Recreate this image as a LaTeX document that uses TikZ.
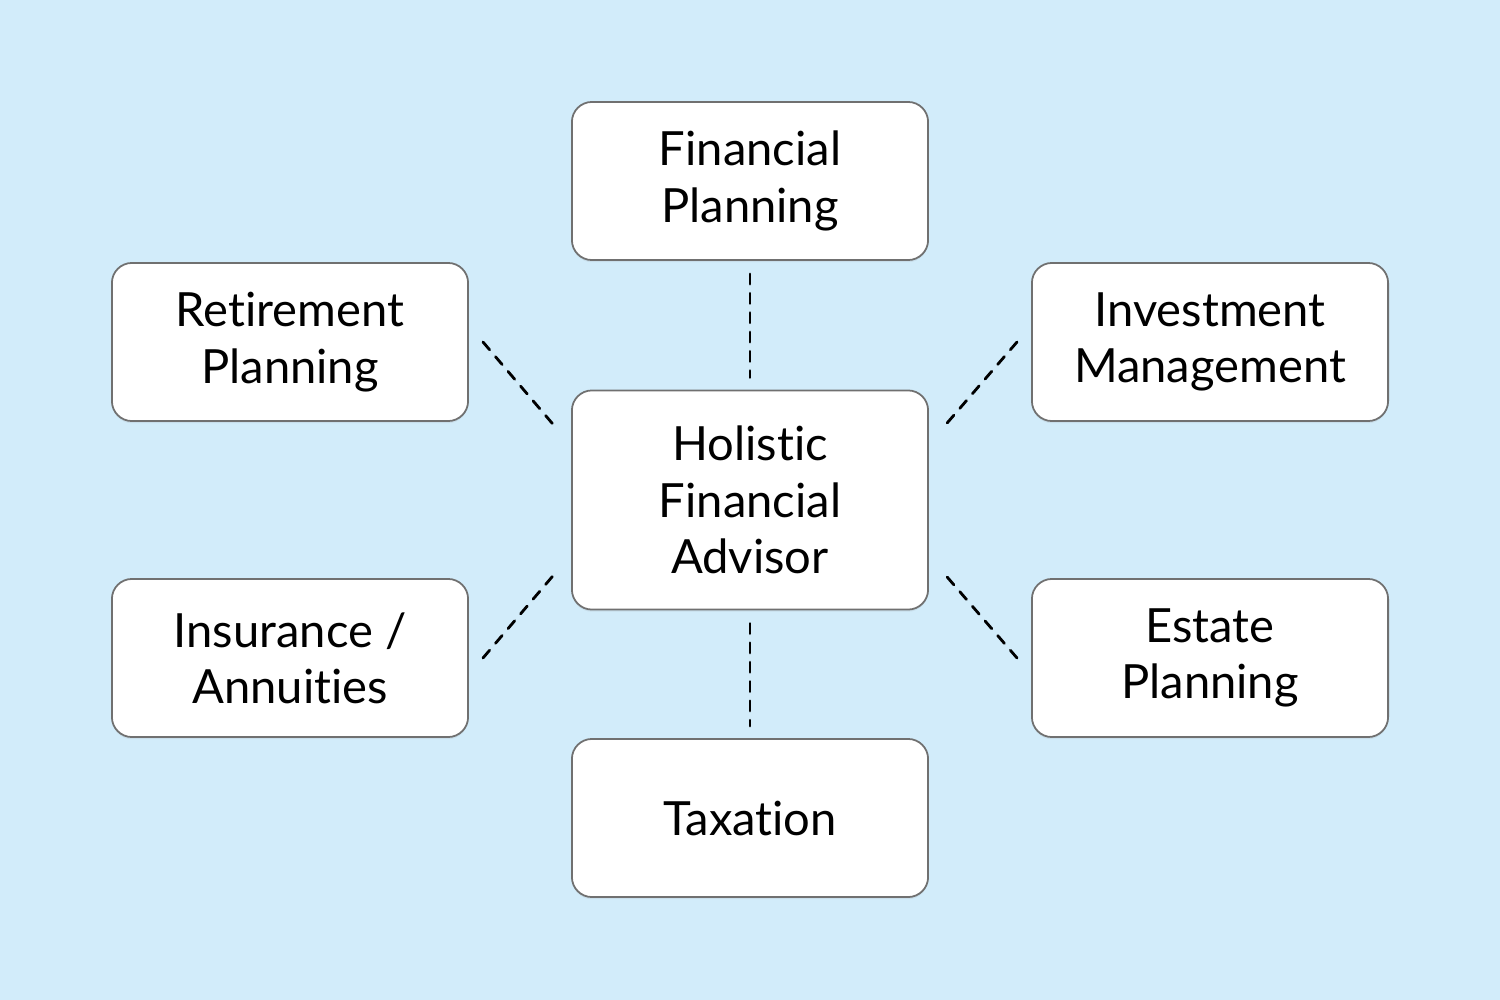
\documentclass[tikz,border=0pt]{standalone}
\usepackage{fontspec}
\setmainfont{Lato}[Ligatures=NoCommon]
\usetikzlibrary{shadows,calc}
\definecolor{bgblue}{HTML}{D2ECFA}
\definecolor{boxline}{HTML}{707070}
\begin{document}
\begin{tikzpicture}[x=0.01cm,y=-0.01cm,
  card/.style={draw=boxline, line width=0.5pt, fill=white, rounded corners=0.2cm,
    minimum width=3.56cm, minimum height=1.58cm, align=center, inner sep=0pt,
    font=\fontsize{13.4}{16}\selectfont,
    drop shadow={opacity=0.12, shadow xshift=0pt, shadow yshift=-0.6pt}},
  link/.style={draw=black, line width=0.8pt, dash pattern=on 2.9pt off 2.6pt, line cap=round}]
\fill[bgblue] (0,0) rectangle (1500,1000);
\useasboundingbox (0,0) rectangle (1500,1000);
\node[card] (fin) at (750,181) {Financial\\Planning};
\node[card] (ret) at (290,342) {Retirement\\Planning};
\node[card] (inv) at (1210,342) {Investment\\Management};
\node[card, minimum height=2.19cm] (hol) at (750,500) {Holistic\\Financial\\Advisor};
\node[card] (ins) at (290,658) {Insurance /\\Annuities};
\node[card] (est) at (1210,658) {Estate\\Planning};
\node[card] (tax) at (750,818) {Taxation};
\draw[link] ([yshift=-0.13cm]fin.south) -- ([yshift=0.12cm]hol.north);
\draw[link] ([yshift=-0.13cm]hol.south) -- ([yshift=0.12cm]tax.north);
\draw[link] ([xshift=0.14cm]ret.east) -- ([xshift=-0.14cm,yshift=0.71cm]hol.west);
\draw[link] ([xshift=-0.14cm]inv.west) -- ([xshift=0.13cm,yshift=0.71cm]hol.east);
\draw[link] ([xshift=0.14cm]ins.east) -- ([xshift=-0.14cm,yshift=-0.71cm]hol.west);
\draw[link] ([xshift=-0.14cm]est.west) -- ([xshift=0.13cm,yshift=-0.71cm]hol.east);
\end{tikzpicture}
\end{document}
